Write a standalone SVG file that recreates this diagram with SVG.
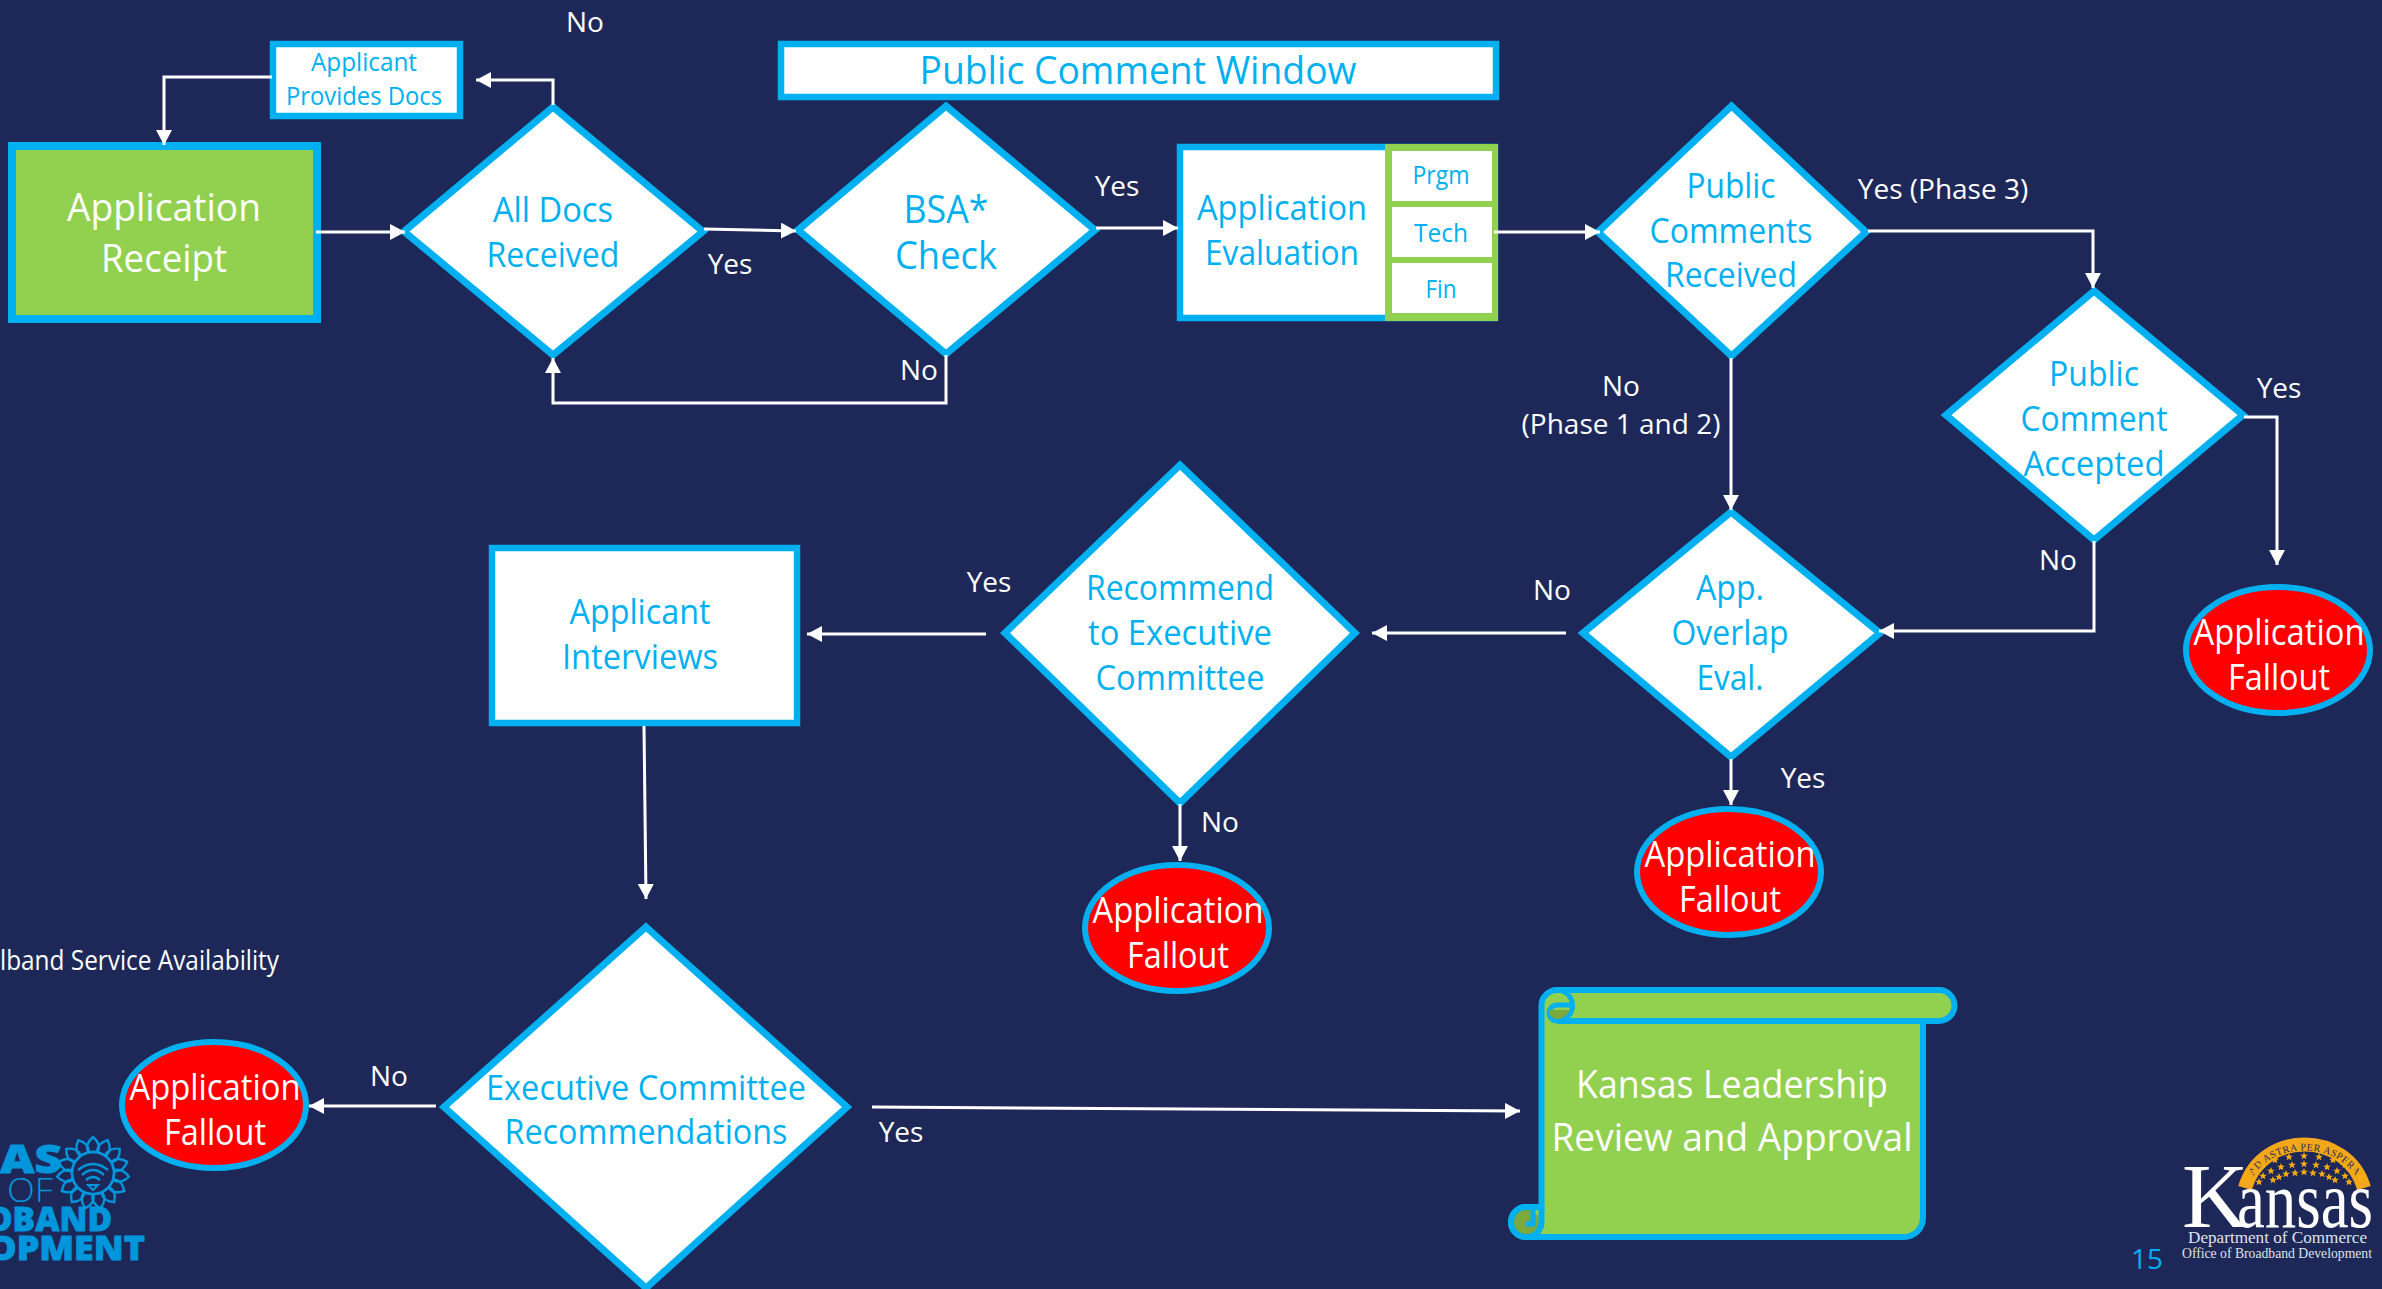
<svg xmlns="http://www.w3.org/2000/svg" xmlns:xlink="http://www.w3.org/1999/xlink" width="2382" height="1289" viewBox="0 0 2382 1289">
<style>
text{font-family:"Open Sans","Noto Sans","Liberation Sans",sans-serif;text-anchor:middle}
.b{fill:#00b0f0}.w{fill:#fff}
.box{fill:#fff;stroke:#00b0f0;stroke-width:6.5}
.dia{fill:#fff;stroke:#00b0f0;stroke-width:7;stroke-linejoin:miter}
.fall{fill:#f00;stroke:#00b0f0;stroke-width:6}
.con{fill:none;stroke:#fff;stroke-width:3;marker-end:url(#arr)}
.cell{fill:#fff}
.lab{fill:#fff;font-size:28px}
.f36{font-size:36px}.f34{font-size:34px}.f26{font-size:25px}
.logo{fill:#0096dc}
.hv{stroke:#0096dc;stroke-width:.8}
.ser{font-family:"Liberation Serif",serif}
.l{text-anchor:start}
.e{text-anchor:end}
.star{fill:#f6ab12}
</style>
<defs>
<marker id="arr" markerUnits="userSpaceOnUse" markerWidth="16" markerHeight="16" refX="15" refY="8" orient="auto"><path d="M0,0 L15,8 L0,16 Z" fill="#fff"/></marker>
<polygon id="st" points="0,-4 1.1,-1.3 3.9,-1.2 1.7,0.6 2.4,3.3 0,1.8 -2.4,3.3 -1.7,0.6 -3.9,-1.2 -1.1,-1.3"/>
<path id="pet" d="M0,-36 C6,-31 7,-26 5,-21 L-5,-21 C-7,-26 -6,-31 0,-36 Z" fill="none" stroke="#0096dc" stroke-width="2.4"/>
<path id="arch" d="M2247,1190 C2262,1137 2347,1137 2362,1190"/>
</defs>
<rect width="2382" height="1289" fill="#1e2858"/>

<g id="application-receipt"><rect x="12" y="146" width="305" height="173" fill="#92d050" stroke="#00b0f0" stroke-width="8"/>
<text class="w" font-size="39" x="164" y="221" textLength="194" lengthAdjust="spacingAndGlyphs">Application</text><text class="w" font-size="39" x="164" y="272" textLength="126" lengthAdjust="spacingAndGlyphs">Receipt</text></g>

<g id="applicant-provides-docs"><rect class="box" x="273" y="44" width="187" height="72"/>
<text class="b f26" x="364" y="71" textLength="106" lengthAdjust="spacingAndGlyphs">Applicant</text><text class="b f26" x="364" y="105" textLength="156" lengthAdjust="spacingAndGlyphs">Provides Docs</text></g>

<g id="all-docs-received"><polygon class="dia" points="553,107 703,231.500 553,355 404,231.500"/>
<text class="b f34" x="553" y="222" textLength="120" lengthAdjust="spacingAndGlyphs">All Docs</text><text class="b f34" x="553" y="267" textLength="133" lengthAdjust="spacingAndGlyphs">Received</text></g>

<g id="public-comment-window"><rect class="box" x="781" y="44" width="715" height="53"/>
<text class="b" font-size="38" x="1138" y="84" textLength="437" lengthAdjust="spacingAndGlyphs">Public Comment Window</text></g>

<g id="bsa-check"><polygon class="dia" points="946,106 1095,230 946,354 798,230"/>
<text class="b" font-size="38" x="946" y="223" textLength="85" lengthAdjust="spacingAndGlyphs">BSA*</text><text class="b" font-size="38" x="946" y="269" textLength="102" lengthAdjust="spacingAndGlyphs">Check</text></g>

<g id="application-evaluation"><rect class="box" x="1180" y="147" width="315" height="171"/>
<rect x="1385" y="144" width="113" height="177" fill="#92d050"/>
<rect class="cell" x="1392" y="151" width="100" height="50"/><rect class="cell" x="1392" y="207" width="100" height="50"/><rect class="cell" x="1392" y="263" width="100" height="50"/>
<text class="b f34" x="1282" y="220" textLength="170" lengthAdjust="spacingAndGlyphs">Application</text><text class="b f34" x="1282" y="265" textLength="154" lengthAdjust="spacingAndGlyphs">Evaluation</text>
<text class="b f26" x="1441" y="184" textLength="57" lengthAdjust="spacingAndGlyphs">Prgm</text><text class="b f26" x="1441" y="242" textLength="54" lengthAdjust="spacingAndGlyphs">Tech</text><text class="b f26" x="1441" y="298" textLength="31" lengthAdjust="spacingAndGlyphs">Fin</text></g>

<g id="public-comments-received"><polygon class="dia" points="1731.500,106 1866,232 1731.500,356 1598,232"/>
<text class="b f34" x="1731" y="198" textLength="89" lengthAdjust="spacingAndGlyphs">Public</text><text class="b f34" x="1731" y="243" textLength="163" lengthAdjust="spacingAndGlyphs">Comments</text><text class="b f34" x="1731" y="287" textLength="132" lengthAdjust="spacingAndGlyphs">Received</text></g>

<g id="public-comment-accepted"><polygon class="dia" points="2094,291 2243,415 2094,540 1946,415"/>
<text class="b f34" x="2094" y="386" textLength="90" lengthAdjust="spacingAndGlyphs">Public</text><text class="b f34" x="2094" y="431" textLength="147" lengthAdjust="spacingAndGlyphs">Comment</text><text class="b f34" x="2094" y="476" textLength="141" lengthAdjust="spacingAndGlyphs">Accepted</text></g>

<g id="app-overlap-eval"><polygon class="dia" points="1731,512 1880,633 1731,757 1583,633"/>
<text class="b f34" x="1730" y="600" textLength="68" lengthAdjust="spacingAndGlyphs">App.</text><text class="b f34" x="1730" y="645" textLength="117" lengthAdjust="spacingAndGlyphs">Overlap</text><text class="b f34" x="1730" y="690" textLength="67" lengthAdjust="spacingAndGlyphs">Eval.</text></g>

<g id="recommend"><polygon class="dia" points="1180,465 1355,633 1180,803 1005,633"/>
<text class="b f34" x="1180" y="600" textLength="188" lengthAdjust="spacingAndGlyphs">Recommend</text><text class="b f34" x="1180" y="645" textLength="184" lengthAdjust="spacingAndGlyphs">to Executive</text><text class="b f34" x="1180" y="690" textLength="169" lengthAdjust="spacingAndGlyphs">Committee</text></g>

<g id="applicant-interviews"><rect class="box" x="492" y="548" width="305" height="175"/>
<text class="b f34" x="640" y="624" textLength="141" lengthAdjust="spacingAndGlyphs">Applicant</text><text class="b f34" x="640" y="669" textLength="156" lengthAdjust="spacingAndGlyphs">Interviews</text></g>

<g id="executive-committee"><polygon class="dia" points="646,927 847,1107 646,1288 444,1107"/>
<text class="b f34" x="646" y="1100" textLength="320" lengthAdjust="spacingAndGlyphs">Executive Committee</text><text class="b f34" x="646" y="1144" textLength="283" lengthAdjust="spacingAndGlyphs">Recommendations</text></g>

<g id="fallout-1"><ellipse class="fall" cx="2278" cy="650" rx="92" ry="63"/><text class="w f36" x="2279" y="645" textLength="171" lengthAdjust="spacingAndGlyphs">Application</text><text class="w f36" x="2279" y="690" textLength="102" lengthAdjust="spacingAndGlyphs">Fallout</text></g>
<g id="fallout-2"><ellipse class="fall" cx="1729" cy="872" rx="92" ry="63"/><text class="w f36" x="1730" y="867" textLength="171" lengthAdjust="spacingAndGlyphs">Application</text><text class="w f36" x="1730" y="912" textLength="102" lengthAdjust="spacingAndGlyphs">Fallout</text></g>
<g id="fallout-3"><ellipse class="fall" cx="1177" cy="928" rx="92" ry="63"/><text class="w f36" x="1178" y="923" textLength="171" lengthAdjust="spacingAndGlyphs">Application</text><text class="w f36" x="1178" y="968" textLength="102" lengthAdjust="spacingAndGlyphs">Fallout</text></g>
<g id="fallout-4"><ellipse class="fall" cx="214" cy="1105" rx="92" ry="63"/><text class="w f36" x="215" y="1100" textLength="171" lengthAdjust="spacingAndGlyphs">Application</text><text class="w f36" x="215" y="1145" textLength="102" lengthAdjust="spacingAndGlyphs">Fallout</text></g>

<g id="kansas-leadership">
<path d="M1557,990 H1939 A15.500,15.500 0 0 1 1939,1021 H1923 V1218 A19,19 0 0 1 1904,1237 H1526 A15,15 0 0 1 1526,1207 H1541.500 V1006 A15.500,15.500 0 0 1 1557,990 Z" fill="#92d050" stroke="#00b0f0" stroke-width="6"/>
<path d="M1557,1021 H1923" fill="none" stroke="#00b0f0" stroke-width="6"/>
<path d="M1557,990 A15.500,15.500 0 0 1 1557,1021 A8,8 0 0 1 1557,1005 H1572" fill="none" stroke="#00b0f0" stroke-width="5"/>
<path d="M1549,1010 H1570 Q1566,1018 1558,1019 Q1549,1019 1549,1010 Z" fill="#7ba83f"/>
<circle cx="1526" cy="1222" r="13" fill="#7ba83f"/>
<path d="M1541.500,1205 V1222 A15,15 0 0 1 1526,1237 A15,15 0 0 1 1526,1207 H1541.500" fill="none" stroke="#00b0f0" stroke-width="6"/>
<path d="M1533,1210 V1224 H1526" fill="none" stroke="#00b0f0" stroke-width="5"/>
<text class="w" font-size="39" x="1732" y="1098" textLength="312" lengthAdjust="spacingAndGlyphs">Kansas Leadership</text><text class="w" font-size="39" x="1732" y="1151" textLength="361" lengthAdjust="spacingAndGlyphs">Review and Approval</text></g>

<g id="connectors">
<path class="con" d="M316,232 H405"/>
<path class="con" d="M704,229 L796,231"/>
<path class="con" d="M553,105 V80 H476"/>
<path class="con" d="M272,77 H164 V145"/>
<path class="con" d="M946,355 V403 H553 V358"/>
<path class="con" d="M1096,228 H1178"/>
<path class="con" d="M1494,232 H1600"/>
<path class="con" d="M1868,231 H2093 V288"/>
<path class="con" d="M1731,358 V510"/>
<path class="con" d="M2244,417 H2277 V565"/>
<path class="con" d="M2094,541 V631 H1879"/>
<path class="con" d="M1566,633 H1372"/>
<path class="con" d="M986,634 H807"/>
<path class="con" d="M644,726 L646,899"/>
<path class="con" d="M1180,804 V861"/>
<path class="con" d="M1731,759 V805"/>
<path class="con" d="M436,1106 H309"/>
<path class="con" d="M872,1107 L1520,1111"/>
</g>

<g id="labels">
<text class="lab" x="585" y="32">No</text>
<text class="lab" x="730" y="274">Yes</text>
<text class="lab" x="1117" y="196">Yes</text>
<text class="lab" x="919" y="380">No</text>
<text class="lab" x="1943" y="199">Yes (Phase 3)</text>
<text class="lab" x="1621" y="396">No</text>
<text class="lab" x="1621" y="434">(Phase 1 and 2)</text>
<text class="lab" x="2279" y="398">Yes</text>
<text class="lab" x="2058" y="570">No</text>
<text class="lab" x="1552" y="600">No</text>
<text class="lab" x="989" y="592">Yes</text>
<text class="lab" x="1803" y="788">Yes</text>
<text class="lab" x="1220" y="832">No</text>
<text class="lab" x="389" y="1086">No</text>
<text class="lab" x="901" y="1142">Yes</text>
<text class="lab l" x="0" y="970" font-size="25" textLength="279" lengthAdjust="spacingAndGlyphs">lband Service Availability</text>
<text class="b" x="2147" y="1269" font-size="28">15</text>
</g>

<g id="logo-left">
<g transform="translate(93,1173)">
<use xlink:href="#pet" href="#pet"/><use href="#pet" transform="rotate(24)"/><use href="#pet" transform="rotate(48)"/><use href="#pet" transform="rotate(72)"/><use href="#pet" transform="rotate(96)"/><use href="#pet" transform="rotate(120)"/><use href="#pet" transform="rotate(144)"/><use href="#pet" transform="rotate(168)"/><use href="#pet" transform="rotate(192)"/><use href="#pet" transform="rotate(216)"/><use href="#pet" transform="rotate(240)"/><use href="#pet" transform="rotate(264)"/><use href="#pet" transform="rotate(288)"/><use href="#pet" transform="rotate(312)"/><use href="#pet" transform="rotate(336)"/>
<circle r="21" fill="none" stroke="#0096dc" stroke-width="2.400"/>
<path d="M-15,-3 Q0,-15 15,-3 M-11,2 Q0,-8 11,2 M-7,7 Q0,1 7,7" fill="none" stroke="#0096dc" stroke-width="2.400"/>
<path d="M-5,12 H5 L0,17 Z" fill="none" stroke="#0096dc" stroke-width="2"/>
</g>
<text class="logo hv l" x="0" y="1173" font-size="39" font-weight="800" textLength="62" lengthAdjust="spacingAndGlyphs">AS</text>
<text class="logo l" x="7" y="1202" font-size="33" font-weight="300" textLength="46" lengthAdjust="spacingAndGlyphs">OF</text>
<text class="logo hv l" x="-12" y="1231" font-size="33" font-weight="800" textLength="124" lengthAdjust="spacingAndGlyphs">DBAND</text>
<text class="logo hv l" x="-12" y="1260" font-size="33" font-weight="800" textLength="157" lengthAdjust="spacingAndGlyphs">OPMENT</text>
</g>

<g id="logo-kansas">
<path d="M2245,1188 C2262,1130 2347,1130 2364,1188" fill="none" stroke="#f2a81a" stroke-width="14"/>
<polygon class="star" points="2239,1184 2247,1170 2252,1180 2246,1178"/><polygon class="star" points="2370,1184 2362,1170 2357,1180 2363,1178"/>
<text font-size="10" class="ser" fill="#1e2858" style="letter-spacing:.5px"><textPath href="#arch" startOffset="50%">AD ASTRA PER ASPERA</textPath></text>
<g class="star">
<use href="#st" x="2304" y="1156"/><use href="#st" x="2319" y="1157"/><use href="#st" x="2333" y="1160"/><use href="#st" x="2345" y="1165"/><use href="#st" x="2353" y="1171"/><use href="#st" x="2358" y="1178"/><use href="#st" x="2289" y="1157"/><use href="#st" x="2275" y="1160"/><use href="#st" x="2263" y="1165"/><use href="#st" x="2255" y="1171"/><use href="#st" x="2250" y="1178"/>
<use href="#st" x="2304" y="1164"/><use href="#st" x="2316" y="1165"/><use href="#st" x="2327" y="1167"/><use href="#st" x="2337" y="1171"/><use href="#st" x="2345" y="1176"/><use href="#st" x="2349" y="1182"/><use href="#st" x="2292" y="1165"/><use href="#st" x="2281" y="1167"/><use href="#st" x="2271" y="1171"/><use href="#st" x="2263" y="1176"/><use href="#st" x="2259" y="1182"/>
<use href="#st" x="2304" y="1172"/><use href="#st" x="2313" y="1173"/><use href="#st" x="2322" y="1174"/><use href="#st" x="2329" y="1177"/><use href="#st" x="2335" y="1180"/><use href="#st" x="2295" y="1173"/><use href="#st" x="2286" y="1174"/><use href="#st" x="2279" y="1177"/><use href="#st" x="2273" y="1180"/>
</g>
<text class="ser w l" x="2182" y="1227" font-size="92">K</text>
<text class="ser w l" x="2237" y="1227" font-size="80" textLength="136" lengthAdjust="spacingAndGlyphs">ansas</text>
<text class="ser l" fill="#dfe2ea" x="2188" y="1243" font-size="16.500" textLength="179" lengthAdjust="spacingAndGlyphs">Department of Commerce</text>
<text class="ser l" fill="#dfe2ea" x="2182" y="1258" font-size="14" textLength="190" lengthAdjust="spacingAndGlyphs">Office of Broadband Development</text>
</g>
</svg>
